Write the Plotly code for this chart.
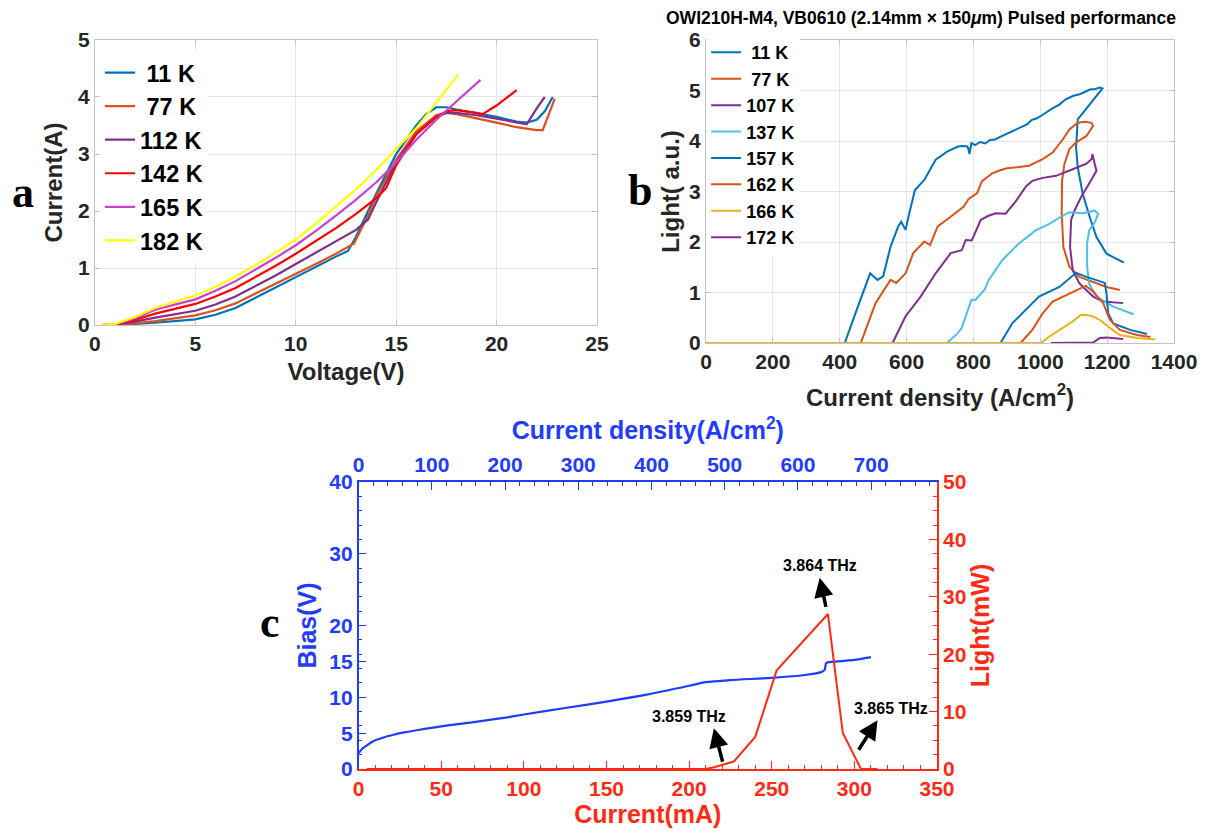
import plotly.graph_objects as go

# ---------------- Panel a : I-V curves ----------------
temps_a = ["\u00a011 K", "\u00a077 K", "112 K", "142 K", "165 K", "182 K"]
colors_a = ["#0072BD", "#D95319", "#7E2F8E", "#FF0000", "#C93FD0", "#FFFF00"]

v11 = [0.3, 1, 2, 3, 5, 6, 7, 8, 9, 10, 11, 12, 12.6, 13, 14, 15, 16, 16.5, 17, 17.5, 18, 19, 20, 21, 21.5, 22, 22.4, 22.8]
i11 = [0, 0, 0.02, 0.04, 0.1, 0.18, 0.3, 0.48, 0.66, 0.85, 1.02, 1.2, 1.3, 1.55, 2.3, 3.0, 3.5, 3.7, 3.82, 3.82, 3.78, 3.72, 3.65, 3.57, 3.55, 3.6, 3.75, 4.0]
v77 = [0.3, 1, 2, 3, 5, 6, 7, 8, 9, 10, 11, 12, 12.9, 13.5, 14, 15, 16, 17, 17.5, 18, 19, 20, 21, 22, 22.3, 22.6, 22.9]
i77 = [0, 0, 0.03, 0.07, 0.17, 0.26, 0.38, 0.55, 0.72, 0.9, 1.07, 1.25, 1.43, 1.85, 2.25, 2.9, 3.4, 3.68, 3.72, 3.7, 3.63, 3.55, 3.47, 3.42, 3.42, 3.7, 3.97]
v112 = [0.3, 1, 2, 3, 5, 6, 7, 8, 9, 10, 11, 12, 13, 13.6, 14, 15, 16, 17, 17.5, 18, 19, 20, 21, 21.5, 22, 22.4]
i112 = [0, 0.01, 0.06, 0.13, 0.25, 0.36, 0.5, 0.68, 0.87, 1.07, 1.27, 1.47, 1.67, 1.85, 2.15, 2.85, 3.35, 3.65, 3.72, 3.72, 3.68, 3.62, 3.55, 3.52, 3.8, 4.0]
v142 = [0.3, 1, 2, 3, 5, 6, 7, 8, 9, 10, 11, 12, 13, 14, 14.5, 15, 16, 17, 17.5, 18, 19, 19.3, 20, 21]
i142 = [0, 0.01, 0.09, 0.2, 0.37, 0.5, 0.65, 0.84, 1.04, 1.25, 1.47, 1.7, 1.95, 2.22, 2.4, 2.8, 3.35, 3.65, 3.75, 3.77, 3.72, 3.7, 3.85, 4.12]
v165 = [0.3, 1, 2, 3, 5, 6, 7, 8, 9, 10, 11, 12, 13, 14, 15, 16, 17, 18, 19.2]
i165 = [0, 0.01, 0.12, 0.27, 0.45, 0.6, 0.77, 0.97, 1.18, 1.4, 1.65, 1.92, 2.2, 2.5, 2.85, 3.25, 3.6, 3.92, 4.3]
v182 = [0.3, 1, 2, 3, 5, 6, 7, 8, 9, 10, 11, 12, 13, 14, 15, 16, 17, 18.1]
i182 = [0, 0.02, 0.14, 0.3, 0.52, 0.67, 0.85, 1.05, 1.27, 1.5, 1.78, 2.08, 2.38, 2.72, 3.08, 3.45, 3.9, 4.4]
volts_a = [v11, v77, v112, v142, v165, v182]
currents_a = [i11, i77, i112, i142, i165, i182]

# ---------------- Panel b : L-J curves ----------------
temps_b = ["\u00a011 K", "\u00a077 K", "107 K", "137 K", "157 K", "162 K", "166 K", "172 K"]
colors_b = ["#0072BD", "#D95319", "#7E2F8E", "#4DBEEE", "#0072BD", "#D95319", "#EDB120", "#7E2F8E"]

j11 = [0, 415, 451, 491, 513, 530, 552, 575, 584, 597, 608, 625, 653, 687, 721, 754, 765, 782, 785, 788, 794,
       805, 820, 835, 850, 865, 880, 896, 910, 925, 946, 960, 975, 990, 1007, 1020, 1035, 1057, 1075, 1097, 1120,
       1148, 1165, 1178, 1186, 1112, 1107, 1112, 1127, 1148, 1168, 1198, 1250]
l11 = [0, 0, 0.66, 1.38, 1.25, 1.32, 1.91, 2.31, 2.40, 2.24, 2.57, 3.03, 3.23, 3.63, 3.79, 3.89, 3.90, 3.89, 3.84, 3.74, 3.96,
       3.92, 3.98, 3.95, 4.02, 4.03, 4.08, 4.13, 4.18, 4.22, 4.30, 4.33, 4.42, 4.45, 4.52, 4.58, 4.64, 4.72, 4.82, 4.89, 4.93,
       5.02, 5.03, 5.06, 5.04, 4.43, 3.87, 3.48, 2.95, 2.49, 2.10, 1.77, 1.59]
j77 = [0, 463, 507, 552, 569, 597, 620, 653, 670, 693, 732, 771, 785, 811, 825, 856, 880, 900, 930, 966, 1007, 1037,
       1067, 1087, 1112, 1135, 1153, 1158, 1138, 1107, 1087, 1072, 1065, 1064, 1069, 1087, 1117, 1168, 1198, 1238]
l77 = [0, 0, 0.79, 1.25, 1.19, 1.38, 1.78, 2.01, 1.94, 2.31, 2.50, 2.70, 2.85, 2.97, 3.20, 3.36, 3.42, 3.46, 3.48, 3.51, 3.64, 3.77,
       4.03, 4.23, 4.36, 4.38, 4.36, 4.30, 4.10, 3.97, 3.84, 3.54, 3.21, 2.56, 1.90, 1.51, 1.31, 1.18, 1.11, 1.05]
j107 = [0, 558, 597, 642, 687, 732, 765, 777, 795, 822, 845, 867, 896, 912, 926, 957, 976, 1007, 1047, 1097, 1138,
        1153, 1156, 1163, 1168, 1148, 1122, 1102, 1092, 1089, 1097, 1117, 1158, 1188, 1248]
l107 = [0, 0, 0.53, 0.92, 1.38, 1.78, 1.84, 2.04, 2.03, 2.44, 2.52, 2.57, 2.56, 2.70, 2.80, 3.10, 3.21, 3.27, 3.31, 3.44, 3.55,
        3.64, 3.74, 3.54, 3.41, 3.18, 2.89, 2.62, 2.43, 1.90, 1.44, 1.18, 0.92, 0.82, 0.79]
j137 = [0, 721, 754, 765, 794, 805, 833, 846, 886, 936, 986, 1027, 1067, 1087, 1127, 1163, 1173, 1163, 1146, 1140, 1140,
        1146, 1168, 1218, 1279]
l137 = [0, 0, 0.20, 0.30, 0.86, 0.85, 1.05, 1.25, 1.64, 1.97, 2.23, 2.36, 2.52, 2.59, 2.57, 2.62, 2.56, 2.39, 2.23, 1.97, 1.51,
        1.18, 0.92, 0.72, 0.57]
j157 = [0, 881, 916, 956, 996, 1057, 1087, 1107, 1138, 1168, 1193, 1198, 1203, 1218, 1269, 1319]
l157 = [0, 0, 0.39, 0.66, 0.92, 1.11, 1.28, 1.39, 1.31, 1.25, 1.19, 0.98, 0.59, 0.39, 0.26, 0.18]
j162 = [0, 941, 976, 1007, 1037, 1077, 1107, 1136, 1158, 1188, 1208, 1238, 1289, 1329]
l162 = [0, 0, 0.26, 0.59, 0.82, 0.95, 1.05, 1.13, 1.02, 0.79, 0.46, 0.26, 0.16, 0.12]
j166 = [0, 1002, 1027, 1067, 1097, 1122, 1153, 1178, 1208, 1238, 1289, 1344]
l166 = [0, 0, 0.13, 0.30, 0.43, 0.56, 0.54, 0.46, 0.30, 0.16, 0.10, 0.07]
j172 = [1032, 1158, 1178, 1198, 1248]
l172 = [0, 0.01, 0.10, 0.11, 0.08]
dens_b = [j11, j77, j107, j137, j157, j162, j166, j172]
light_b = [l11, l77, l107, l137, l157, l162, l166, l172]

# ---------------- Panel c : bias / light vs current ----------------
cur_bias = [0, 2, 5, 10, 15, 20, 25, 30, 40, 50, 60, 75, 90, 100, 125, 150, 175, 200, 210, 225, 250, 270, 280, 282, 283, 290, 300, 310]
bias = [2.2, 2.8, 3.3, 4.0, 4.4, 4.7, 5.0, 5.2, 5.6, 5.95, 6.25, 6.7, 7.2, 7.6, 8.5, 9.4, 10.4, 11.6, 12.1, 12.4, 12.7, 13.1, 13.5, 13.8, 14.8, 15.0, 15.2, 15.6]
cur_light = [5, 210, 215, 227, 240, 253, 284, 293, 304, 314]
light_c = [0, 0, 0.3, 1.3, 5.6, 17.2, 27.0, 6.3, 0, 0]

freq_labels = ["3.859 THz", "3.864 THz", "3.865 THz"]
freq_text_pos = [(200, 9.2), (279, 35.5), (322, 10.6)]
freq_arrow_head = [(215, 7.1), (279, 33.3), (314, 8.5)]
freq_arrow_tail = [(220.5, 1.0), (283, 28.0), (302, 3.1)]

BLUE = "#1f3cff"
RED = "#ff2a14"
DARK = "#262626"
FONT = "Liberation Sans, Arial, sans-serif"

fig = go.Figure()

for name, col, xs, ys in zip(temps_a, colors_a, volts_a, currents_a):
    fig.add_trace(go.Scatter(x=xs, y=ys, mode="lines", name=name, line=dict(color=col, width=2.2),
                             xaxis="x", yaxis="y", legend="legend"))

for name, col, xs, ys in zip(temps_b, colors_b, dens_b, light_b):
    fig.add_trace(go.Scatter(x=xs, y=ys, mode="lines", name=name, line=dict(color=col, width=2),
                             xaxis="x2", yaxis="y2", legend="legend2"))

fig.add_trace(go.Scatter(x=cur_bias, y=bias, mode="lines", line=dict(color=BLUE, width=2.2, shape="spline", smoothing=0.6),
                         xaxis="x3", yaxis="y3", showlegend=False))
fig.add_trace(go.Scatter(x=cur_light, y=light_c, mode="lines", line=dict(color=RED, width=2),
                         xaxis="x3", yaxis="y4", showlegend=False))
fig.add_trace(go.Scatter(x=[None], y=[None], mode="lines", xaxis="x4", yaxis="y3", showlegend=False))

tick_a = dict(family=FONT, size=21, color=DARK, weight="bold")
title_a = dict(family=FONT, size=24, color=DARK, weight="bold")
gridc = "#e6e6e6"
linec = "#c4c4c4"

common_ab = dict(showgrid=True, gridcolor=gridc, showline=True, linecolor=linec, mirror="ticks",
                 ticks="inside", ticklen=5, tickcolor=linec, zeroline=False, tickfont=tick_a, automargin=False)

def c_axis(color, **kw):
    d = dict(showline=True, linecolor=color, linewidth=1.5, ticks="inside", ticklen=8, tickcolor=color,
             showgrid=False, zeroline=False, automargin=False,
             tickfont=dict(family=FONT, size=21, color=color, weight="bold"))
    d.update(kw)
    return d

def c_title(text, color, standoff=6):
    return dict(text=text, font=dict(family=FONT, size=25, color=color, weight="bold"), standoff=standoff)

fig.update_layout(
    template="none",
    width=1205, height=833, margin=dict(l=0, r=0, t=0, b=0, autoexpand=False),
    paper_bgcolor="white", plot_bgcolor="white", font=dict(family=FONT),
    xaxis=dict(domain=[0.0788, 0.4954], range=[0, 25], dtick=5, anchor="y",
               title=dict(text="Voltage(V)", font=title_a, standoff=8), **common_ab),
    yaxis=dict(domain=[0.6098, 0.952], range=[0, 5], dtick=1, anchor="x",
               title=dict(text="Current(A)", font=title_a, standoff=8), **common_ab),
    xaxis2=dict(domain=[0.5859, 0.9743], range=[0, 1400], dtick=200, anchor="y2",
                title=dict(text="Current density (A/cm<sup>2</sup>)", font=title_a, standoff=16), **common_ab),
    yaxis2=dict(domain=[0.5882, 0.952], range=[0, 6], dtick=1, anchor="x2",
                title=dict(text="Light( a.u.)", font=title_a, standoff=2), **common_ab),
    xaxis3=c_axis(RED, domain=[0.2976, 0.7776], range=[0, 350], dtick=50, anchor="y3",
                  minor=dict(tickmode="linear", tick0=0, dtick=10, ticks="inside", ticklen=4, tickcolor=RED),
                  title=c_title("Current(mA)", RED)),
    xaxis4=c_axis(BLUE, overlaying="x3", side="top", anchor="y3", range=[0, 790],
                  tickvals=[0, 100, 200, 300, 400, 500, 600, 700],
                  minor=dict(tickmode="linear", tick0=0, dtick=20, ticks="inside", ticklen=4, tickcolor=BLUE),
                  title=c_title("Current density(A/cm<sup>2</sup>)", BLUE)),
    yaxis3=c_axis(BLUE, domain=[0.0768, 0.4214], range=[0, 40], tickvals=[0, 5, 10, 15, 20, 30, 40], anchor="x3",
                  minor=dict(tickmode="linear", tick0=0, dtick=2, ticks="inside", ticklen=4, tickcolor=BLUE),
                  title=c_title("Bias(V)", BLUE)),
    yaxis4=c_axis(RED, overlaying="y3", side="right", anchor="x3", range=[0, 50], dtick=10,
                  minor=dict(tickmode="linear", tick0=0, dtick=2.5, ticks="inside", ticklen=4, tickcolor=RED),
                  title=c_title("Light(mW)", RED)),
    legend=dict(x=0.083, y=0.939, xanchor="left", yanchor="top", bgcolor="white",
                font=dict(family=FONT, size=23.5, color="black", weight="bold"), itemwidth=30,
                tracegroupgap=0),
    legend2=dict(x=0.586, y=0.959, xanchor="left", yanchor="top", bgcolor="white",
                 font=dict(family=FONT, size=18, color="black", weight="bold"), itemwidth=30,
                 tracegroupgap=0),
)

serif = dict(family="Liberation Serif, serif", size=44, color="black", weight="bold")
annotations = [
    dict(text="OWI210H-M4, VB0610 (2.14mm \u00d7 150<i>\u03bc</i>m) Pulsed performance", xref="paper", yref="paper",
         x=921 / 1205, y=1 - 18 / 833, xanchor="center", yanchor="middle", showarrow=False,
         font=dict(family=FONT, size=17.5, color="black", weight="bold")),
    dict(text="a", xref="paper", yref="paper", x=23 / 1205, y=1 - 193 / 833, xanchor="center", yanchor="middle",
         showarrow=False, font=serif),
    dict(text="b", xref="paper", yref="paper", x=640 / 1205, y=1 - 190 / 833, xanchor="center", yanchor="middle",
         showarrow=False, font=serif),
    dict(text="c", xref="paper", yref="paper", x=270 / 1205, y=1 - 622 / 833, xanchor="center", yanchor="middle",
         showarrow=False, font=serif),
]
for lab, (tx, ty), (hx, hy), (ax, ay) in zip(freq_labels, freq_text_pos, freq_arrow_head, freq_arrow_tail):
    annotations.append(dict(text=lab, x=tx, y=ty, xref="x3", yref="y4", showarrow=False,
                            font=dict(family=FONT, size=16, color="black", weight="bold")))
    annotations.append(dict(text="", x=hx, y=hy, ax=ax, ay=ay, xref="x3", yref="y4", axref="x3", ayref="y4",
                            showarrow=True, arrowhead=2, arrowsize=1.1, arrowwidth=3.5, arrowcolor="black"))
fig.update_layout(annotations=annotations)

fig.write_html("out.html", config={"displayModeBar": False},
               post_script="document.body.style.margin='0';document.body.style.overflow='hidden';")
